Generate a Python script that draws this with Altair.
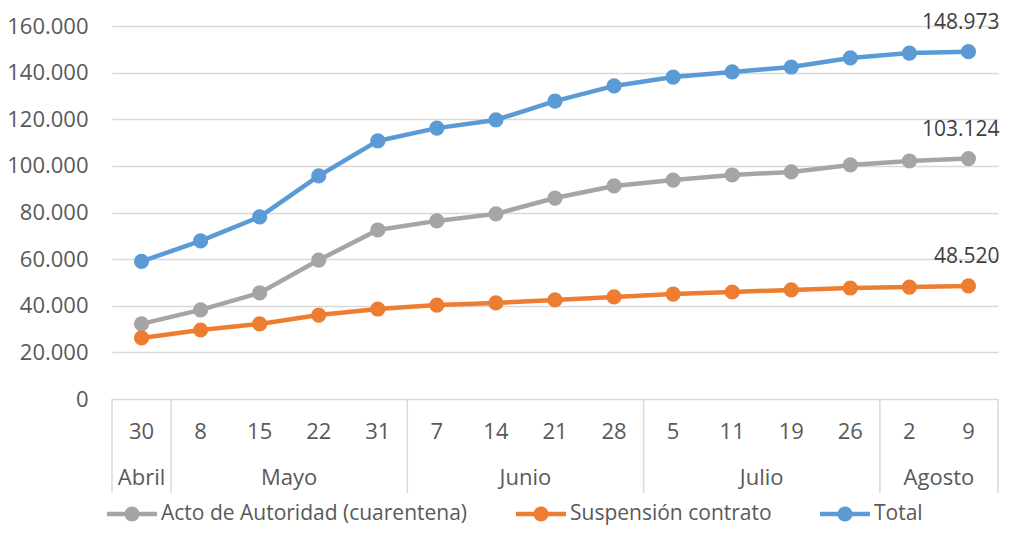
import altair as alt
import pandas as pd

days = ["30", "8", "15", "22", "31", "7", "14", "21", "28", "5", "11", "19", "26", "2", "9"]
months = ["Abril", "Mayo", "Junio", "Julio", "Agosto"]
month_counts = [1, 4, 4, 4, 2]

series_names = ["Acto de Autoridad (cuarentena)", "Suspensión contrato", "Total"]
series_colors = ["#A5A5A5", "#ED7D31", "#5B9BD5"]

acto = [32200, 38200, 45500, 59600, 72500, 76400, 79400, 86200, 91400, 93900, 96100, 97400, 100400, 102100, 103124]
suspension = [26200, 29600, 32200, 36000, 38600, 40300, 41200, 42500, 43800, 45000, 45900, 46800, 47600, 48000, 48520]
total = [59000, 67800, 78100, 95700, 110700, 116200, 119700, 127800, 134300, 138100, 140300, 142400, 146300, 148400, 148973]

y_ticks = [0, 20000, 40000, 60000, 80000, 100000, 120000, 140000, 160000]

rows = []
for name, vals in zip(series_names, [acto, suspension, total]):
    for i, v in enumerate(vals):
        rows.append({"idx": i, "day": days[i], "serie": name, "valor": v})
df = pd.DataFrame(rows)

day_df = pd.DataFrame({"idx": list(range(len(days))), "day": days})

m_rows = []
start = 0
for m, c in zip(months, month_counts):
    m_rows.append({"month": m, "center": start + (c - 1) / 2.0, "left": start - 0.5})
    start += c
month_df = pd.DataFrame(m_rows)
sep_df = pd.DataFrame({"pos": [float(v) for v in month_df["left"]] + [start - 0.5]})

FONT = "Open Sans"
TXT = "#595959"
FS = 22
ES_FMT = "replace(format({v}, ','), ',', '.')"

xscale = alt.Scale(domain=[-0.5, len(days) - 0.5], nice=False, zero=False)
yscale = alt.Scale(domain=[0, 160000], nice=False)
yaxis = alt.Axis(
    title=None,
    values=y_ticks,
    labelExpr=ES_FMT.format(v="datum.value"),
    domain=False,
    ticks=False,
    labelPadding=24,
    labelFont=FONT,
    labelFontSize=FS,
    labelColor=TXT,
    gridColor="#D9D9D9",
    gridWidth=1.5,
)

color = alt.Color(
    "serie:N",
    scale=alt.Scale(domain=series_names, range=series_colors),
    legend=alt.Legend(
        title=None,
        orient="none",
        legendX=-5,
        legendY=463,
        direction="horizontal",
        symbolType="M-1,-0.09L1,-0.09L1,0.09L-1,0.09Z M0.3,0A0.3,0.3 0 1,1 -0.3,0A0.3,0.3 0 1,1 0.3,0Z",
        symbolSize=2500,
        symbolStrokeWidth=0,
        labelFont=FONT,
        labelFontSize=21,
        labelColor=TXT,
        labelLimit=0,
        labelOffset=4,
        columnPadding=48,
    ),
)

base = alt.Chart(df).encode(
    x=alt.X("idx:Q", scale=xscale, axis=None),
    y=alt.Y("valor:Q", scale=yscale, axis=yaxis),
    color=color,
)

lines = base.mark_line(strokeWidth=4.5)
points = base.mark_point(filled=True, size=230, opacity=1, shape="circle")

labels = (
    alt.Chart(df)
    .transform_filter(f"datum.idx == {len(days) - 1}")
    .transform_calculate(lbl=ES_FMT.format(v="datum.valor"))
    .mark_text(dy=-29, dx=31, align="right", font=FONT, fontSize=21, color="#404040")
    .encode(
        x=alt.X("idx:Q", scale=xscale, axis=None),
        y=alt.Y("valor:Q", scale=yscale, axis=yaxis),
        text=alt.Text("lbl:N"),
    )
)

day_text = (
    alt.Chart(day_df)
    .mark_text(font=FONT, fontSize=FS, color=TXT, baseline="middle")
    .encode(x=alt.X("idx:Q", scale=xscale, axis=None), y=alt.value(406), text="day:N")
)

month_text = (
    alt.Chart(month_df)
    .mark_text(font=FONT, fontSize=FS, color=TXT, baseline="middle")
    .encode(x=alt.X("center:Q", scale=xscale, axis=None), y=alt.value(452), text="month:N")
)

seps = (
    alt.Chart(sep_df)
    .mark_rule(color="#D9D9D9", strokeWidth=1.5)
    .encode(x=alt.X("pos:Q", scale=xscale, axis=None), y=alt.value(373), y2=alt.value(467))
)

chart = (
    alt.layer(seps, day_text, month_text, lines, points, labels)
    .properties(
        width=886,
        height=373,
        autosize=alt.AutoSizeParams(type="none"),
        padding={"left": 104, "top": 18, "right": 3, "bottom": 126},
    )
    .configure_view(stroke=None)
)

chart.save("out.html", embed_options={"renderer": "svg", "actions": False})
